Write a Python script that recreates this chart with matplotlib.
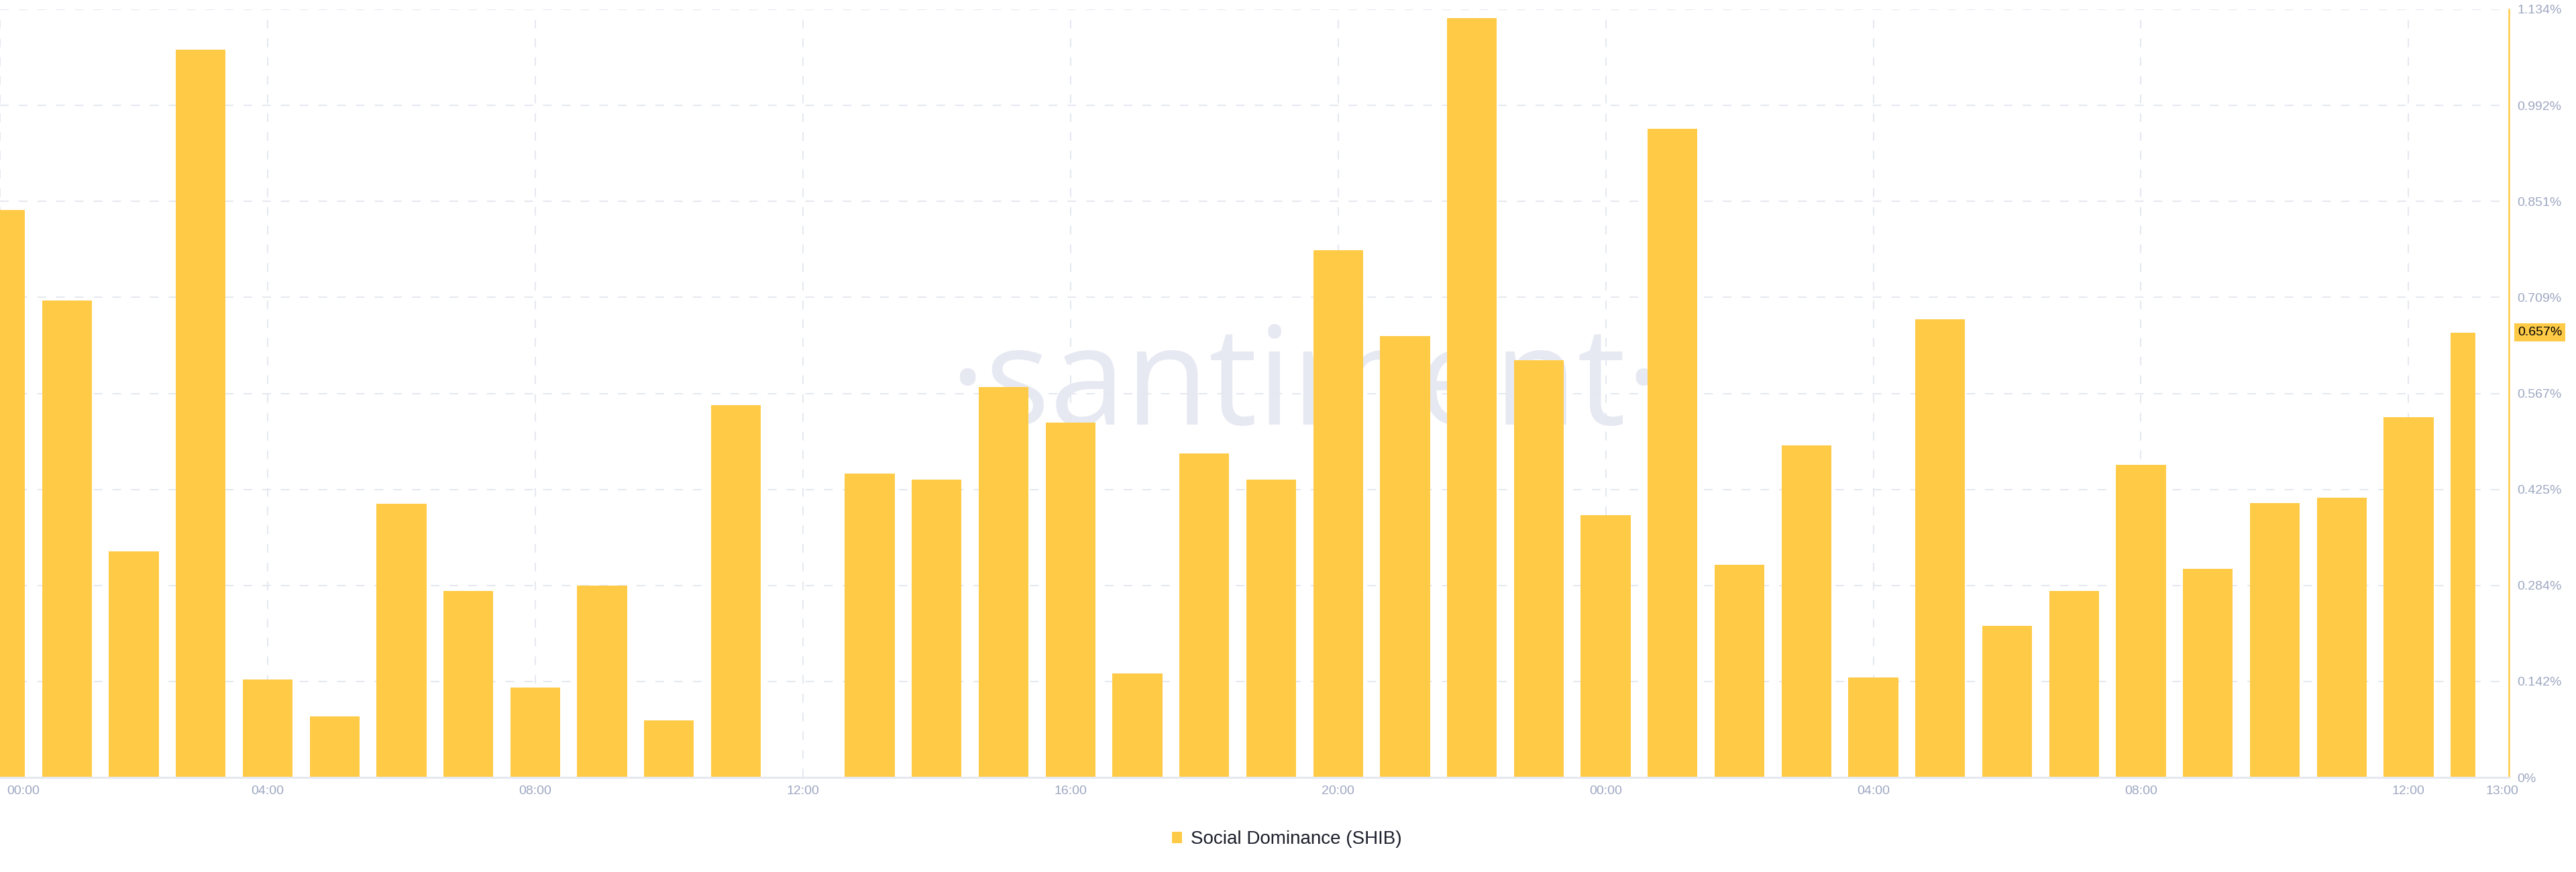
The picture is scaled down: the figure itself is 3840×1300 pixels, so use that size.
import matplotlib
matplotlib.use("Agg")
import matplotlib.pyplot as plt
import matplotlib.transforms as mtransforms
from matplotlib.patches import Patch
import numpy as np

# hourly social dominance of SHIB, in %, from 00:00 day 1 to 13:00 day 2
hours = list(range(38))
dominance = [0.838, 0.704, 0.334, 1.075, 0.145, 0.090, 0.404, 0.275, 0.133, 0.283,
             0.084, 0.550, None, 0.449, 0.440, 0.576, 0.524, 0.154, 0.478, 0.440,
             0.778, 0.652, 1.121, 0.616, 0.387, 0.958, 0.314, 0.490, 0.148, 0.676,
             0.224, 0.275, 0.462, 0.308, 0.405, 0.413, 0.532, 0.657]
last_value_label = '0.657%'

x_tick_hours = [0, 4, 8, 12, 16, 20, 24, 28, 32, 36]
x_tick_labels = ['00:00', '04:00', '08:00', '12:00', '16:00', '20:00',
                 '00:00', '04:00', '08:00', '12:00']
x_end_hour = 37
x_end_label = '13:00'

y_max = 1.134
y_tick_labels = ['0%', '0.142%', '0.284%', '0.425%', '0.567%',
                 '0.709%', '0.851%', '0.992%', '1.134%']

series_name = 'Social Dominance (SHIB)'

YELLOW = '#ffcb47'
GRID = '#e6e8f0'
TICK = '#9ea8c2'

plt.rcParams['font.family'] = ['Liberation Sans', 'DejaVu Sans']

fig = plt.figure(figsize=(38.4, 13), dpi=100)
ax = fig.add_axes([0.0, 1 - 1159 / 1300, 3740 / 3840, (1159 - 14) / 1300])

# bars (last bar is drawn as a half bar, like on the source chart)
x = np.array(hours, dtype=float)
y = np.array([np.nan if v is None else v for v in dominance])
w = 0.745
widths = np.full(len(x), w)
widths[-1] = w / 2
mask = ~np.isnan(y)
ax.bar(x[mask] - w / 2, y[mask], width=widths[mask], align='edge',
       color=YELLOW, edgecolor='none', zorder=2)

ax.set_xlim(0, 37.5)
ax.set_ylim(0, y_max)

# axes styling
for side in ['top', 'left']:
    ax.spines[side].set_visible(False)
ax.spines['bottom'].set_color(GRID)
ax.spines['bottom'].set_linewidth(2.2)
ax.spines['right'].set_color(YELLOW)
ax.spines['right'].set_linewidth(1.8)

ax.yaxis.tick_right()
ax.set_yticks(np.linspace(0, y_max, len(y_tick_labels)), y_tick_labels)
ax.set_xticks(x_tick_hours, x_tick_labels)
ax.set_xticks([x_end_hour], [x_end_label], minor=True)
ax.tick_params(axis='both', which='both', length=0, labelsize=14, labelcolor=TICK, pad=9)

ax.set_axisbelow(True)
ax.grid(True, which='major', color=GRID, linewidth=1.5, linestyle=(0, (6.2, 7.2)))

# nudge the edge labels like the source does
first = ax.get_xticklabels()[0]
first.set_ha('left')
first.set_transform(first.get_transform() +
                    mtransforms.ScaledTranslation(10 / 100, 0, fig.dpi_scale_trans))
last = ax.get_xticklabels(minor=True)[0]
last.set_transform(last.get_transform() +
                   mtransforms.ScaledTranslation(40 / 100, 0, fig.dpi_scale_trans))

# current value badge on the right axis
ax.annotate(last_value_label, xy=(1.0, dominance[-1]), xycoords=('axes fraction', 'data'),
            xytext=(13, 0), textcoords='offset pixels', ha='left', va='center',
            fontsize=14, color='black', annotation_clip=False,
            bbox=dict(boxstyle='square,pad=0.25', facecolor=YELLOW, edgecolor='none'))

# watermark
ax.text(1946 / 3840, 1 - 633 / 1300, '\u00b7santiment\u00b7', transform=fig.transFigure,
        ha='center', va='baseline', fontsize=146, color='#e7e9f2',
        family=['Open Sans', 'DejaVu Sans'], zorder=0.3)

# legend
fig.legend(handles=[Patch(facecolor=YELLOW, edgecolor='none', label=series_name)],
           loc='center', bbox_to_anchor=(1918 / 3840, 1 - 1251 / 1300), frameon=False,
           fontsize=20, labelcolor='#1d1f2b', handlelength=0.57, handleheight=0.57,
           handletextpad=0.45)

fig.savefig('out.png', dpi=100, facecolor='white')
